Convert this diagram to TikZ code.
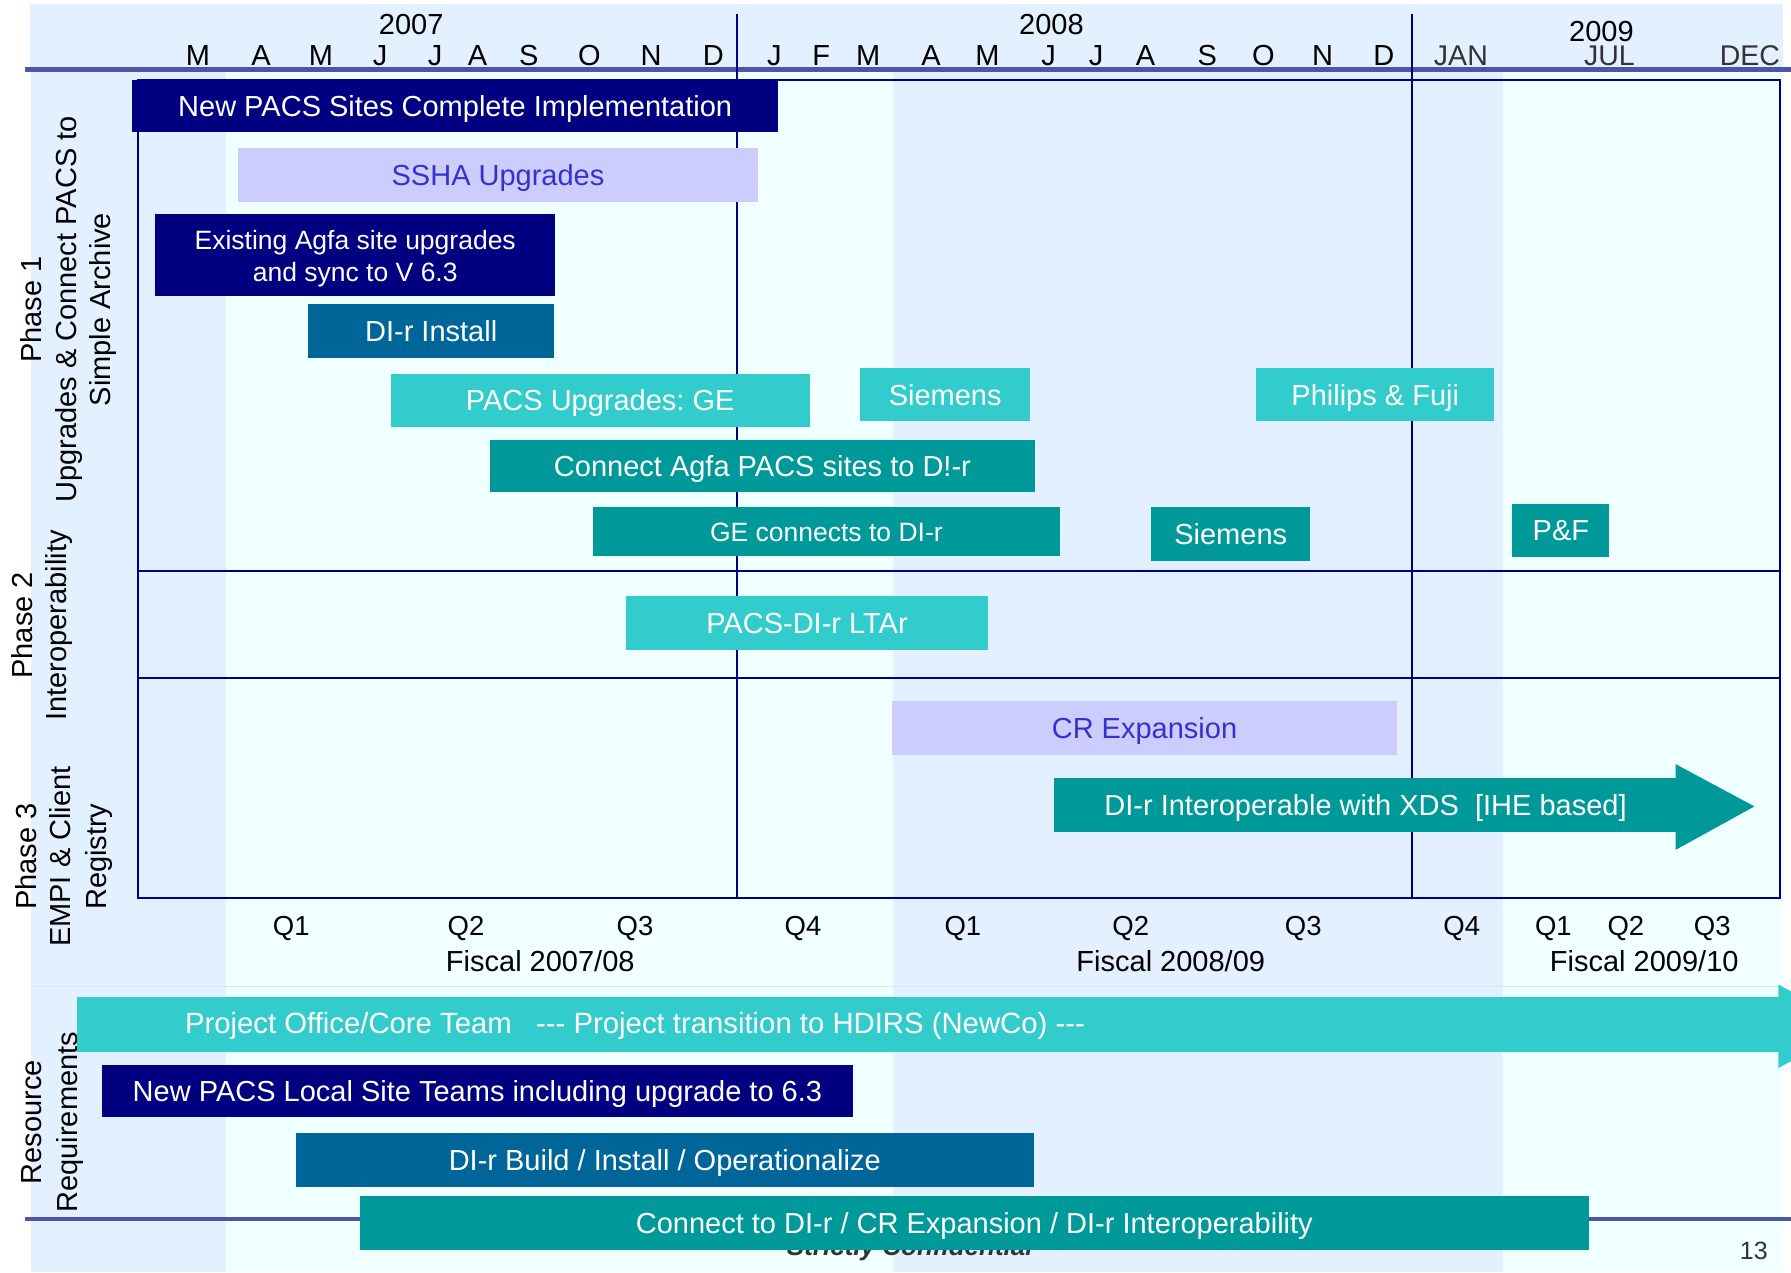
\documentclass[tikz,border=0pt]{standalone}
\usepackage{fontspec}
\setmainfont{Liberation Sans}
\definecolor{navy}{HTML}{000080}
\definecolor{lav}{HTML}{CCCCFF}
\definecolor{lavtext}{HTML}{3333CC}
\definecolor{steel}{HTML}{006699}
\definecolor{turq}{HTML}{33CCCC}
\definecolor{tealc}{HTML}{009999}
\definecolor{bandblue}{HTML}{E3F0FF}
\definecolor{bandcyan}{HTML}{F0FFFF}
\definecolor{hline}{HTML}{4B56AA}
\definecolor{faint}{HTML}{D3E7FA}
\definecolor{greytext}{HTML}{333333}
\newcommand{\fsz}[2]{\fontsize{#1pt}{#2pt}\selectfont}
\frenchspacing
\begin{document}
\begin{tikzpicture}[x=1.1422pt,y=-1.1422pt,
  every node/.style={inner sep=0pt, outer sep=0pt},
  lbl/.style={font=\fsz{29}{35}, text=black, anchor=base},
  qlbl/.style={font=\fsz{27.5}{33}, text=black, anchor=base},
  sidelbl/.style={font=\fsz{29}{35}, text=black, anchor=base, rotate=90},
  barbox/.style 2 args={minimum width=#1*1.1422pt, minimum height=#2*1.1422pt},
  bar/.style={draw=none, text=white, font=\fsz{29}{35}, text height=20.8pt, text depth=0pt},
  smallbar/.style={draw=none, text=white, font=\fsz{26.5}{32}, text height=19pt, text depth=0pt},
  gridline/.style={draw=navy, line width=2pt},
  hdrline/.style={draw=hline, line width=4.5pt}]
\useasboundingbox (0,0) rectangle (1568,1114);
\clip (0,0) rectangle (1568,1114);
\fill[white] (0,0) rectangle (1568,1114);
% background bands
\fill[bandblue] (26,3.5) rectangle (1561,62);
\fill[bandblue] (27,62) rectangle (198,1114);
\fill[bandcyan] (198,62) rectangle (782,1114);
\fill[bandblue] (782,62) rectangle (1316,1114);
\fill[bandcyan] (1316,62) rectangle (1561,1114);
\draw[faint, line width=1.2pt] (27,864) -- (1561,864);
% heavy rules
\draw[hdrline] (22,61) -- (1568,61);
\draw[hdrline] (22,1067) -- (1568,1067);
% frame and grid
\draw[gridline] (121,70) rectangle (1558,786);
\draw[gridline] (121,500) -- (1558,500);
\draw[gridline] (121,594) -- (1558,594);
\draw[gridline] (645,12) -- (645,786);
\draw[gridline] (1236,12) -- (1236,786);
% header
\node[lbl] (y2007) at (360,30.6) {2007};
\node[lbl] (y2008) at (920.5,30.6) {2008};
\node[lbl] (y2009) at (1402,36) {2009};
\foreach \x/\m [count=\i] in {173.4/M,228.6/A,281/M,332.7/J,381/J,418/A,463/S,516/O,570/N,624.6/D,678/J,719/F,760/M,815/A,864.5/M,918/J,959.6/J,1003/A,1057/S,1106/O,1158/N,1211.5/D}
  \node[lbl] (mon\i) at (\x,57) {\m};
\node[lbl, text=greytext, font=\fsz{28.5}{34}] (jan) at (1279,57.5) {JAN};
\node[lbl, text=greytext, font=\fsz{28.5}{34}] (jul) at (1409,57.5) {JUL};
\node[lbl, text=greytext, font=\fsz{28.5}{34}] (dec) at (1532,57.5) {DEC};
% quarters
\foreach \x/\q [count=\i] in {255/Q1,408/Q2,556/Q3,703/Q4,843/Q1,990/Q2,1141/Q3,1279.7/Q4,1360/Q1,1423.4/Q2,1499/Q3}
  \node[qlbl] (q\i) at (\x,819) {\q};
\node[lbl] (f1) at (473,850.7) {Fiscal 2007/08};
\node[lbl] (f2) at (1025,850.7) {Fiscal 2008/09};
\node[lbl] (f3) at (1439.5,850.7) {Fiscal 2009/10};
% side labels
\node[sidelbl] (p1a) at (36.1,271) {Phase 1};
\node[sidelbl] (p1b) at (66.7,271) {Upgrades \& Connect PACS to};
\node[sidelbl] (p1c) at (97.1,271) {Simple Archive};
\node[sidelbl] (p2a) at (28.4,547.5) {Phase 2};
\node[sidelbl] (p2b) at (58.5,547.5) {Interoperability};
\node[sidelbl] (p3a) at (31.7,750) {Phase 3};
\node[sidelbl] (p3b) at (61.9,750) {EMPI \& Client};
\node[sidelbl] (p3c) at (92.9,750) {Registry};
\node[sidelbl] (ra) at (36.7,982.5) {Resource};
\node[sidelbl] (rb) at (67.6,982.5) {Requirements};
% phase bars
\node[bar, fill=navy, barbox={565}{46}] (b1) at (398.5,93) {New PACS Sites Complete Implementation};
\node[bar, fill=lav, text=lavtext, barbox={456}{47}] (b2) at (436,153.5) {SSHA Upgrades};
\node[fill=navy, barbox={350}{72}] (b3) at (311,223) {};
\node[anchor=base, text=white, font=\fsz{26.5}{32}] (b3a) at (311,218.3) {Existing Agfa site upgrades};
\node[anchor=base, text=white, font=\fsz{26.5}{32}] (b3b) at (311,246.3) {and sync to V 6.3};
\node[bar, fill=steel, barbox={215}{47}] (b4) at (377.5,289.5) {DI-r Install};
\node[bar, fill=turq, barbox={367}{47}] (b5) at (525.5,350.5) {PACS Upgrades: GE};
\node[bar, fill=turq, barbox={149}{47}] (b6) at (827.5,345.5) {Siemens};
\node[bar, fill=turq, barbox={208}{47}] (b7) at (1204,345.5) {Philips \& Fuji};
\node[bar, fill=tealc, barbox={477}{46}] (b8) at (667.5,408) {Connect Agfa PACS sites to D!-r};
\node[smallbar, fill=tealc, barbox={409}{43}] (b9) at (723.5,465.5) {GE connects to DI-r};
\node[bar, fill=tealc, barbox={139}{47}] (b10) at (1077.5,467.5) {Siemens};
\node[bar, fill=tealc, barbox={85}{47}] (b11) at (1366.5,464.5) {P\&F};
\node[bar, fill=turq, barbox={317}{47}] (b12) at (706.5,545.5) {PACS-DI-r LTAr};
\node[bar, fill=lav, text=lavtext, barbox={442}{47}] (b13) at (1002,637.5) {CR Expansion};
\node[bar, fill=tealc, barbox={545}{47}] (b14) at (1195.5,704.5) {DI-r Interoperable with XDS\ \ [IHE based]};
\fill[tealc] (1467,669) -- (1536,706) -- (1467,744) -- cycle;
% resources
\node[fill=turq, barbox={1491}{48}] (r1) at (812.5,897) {};
\fill[turq] (1557,862) -- (1624,898.5) -- (1557,935) -- cycle;
\node[anchor=base west, text=white, font=\fsz{29.3}{35}] (r1t) at (162,905) {Project Office/Core Team\ \ \ {-}{-}{-} Project transition to HDIRS (NewCo) {-}{-}{-}};
\node[bar, fill=navy, barbox={658}{46}] (r2) at (418,955) {New PACS Local Site Teams including upgrade to 6.3};
\node[bar, fill=steel, barbox={646}{47}] (r3) at (582,1015.5) {DI-r Build / Install / Operationalize};
\node[anchor=base, font=\bfseries\itshape\fsz{26}{30}, text=greytext] (conf) at (796.5,1099) {Strictly Confidential};
\node[bar, fill=tealc, barbox={1076}{47}] (r4) at (853,1070.5) {Connect to DI-r / CR Expansion / DI-r Interoperability};
\node[anchor=base, font=\fsz{25}{30}, text=greytext] (pg) at (1535.5,1103) {13};
\end{tikzpicture}
\end{document}
